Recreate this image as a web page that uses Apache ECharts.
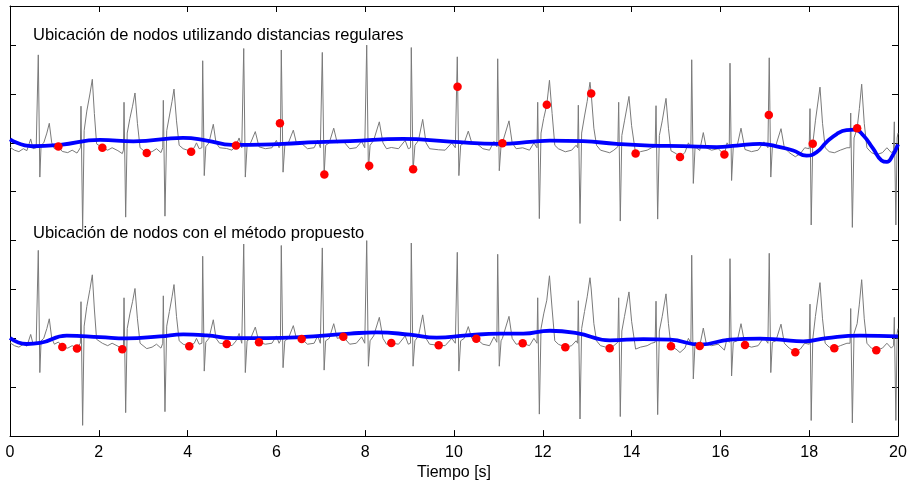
<!DOCTYPE html>
<html><head><meta charset="utf-8">
<script src="https://cdn.jsdelivr.net/npm/echarts@6/dist/echarts.min.js"></script>
<style>html,body{margin:0;padding:0;background:#fff}#c{width:914px;height:486px}</style>
</head><body><div id="c"></div>
<script>
const titles = ['Ubicación de nodos utilizando distancias regulares', 'Ubicación de nodos con el método propuesto'];
const xAxisName = 'Tiempo [s]';

// ECG trace [time s, amplitude]
const ecg = [
[0,-0.09],[0.1,-0.15],[0.2,-0.18],[0.3,-0.12],[0.38,-0.16],[0.466,0.08],[0.52,-0.12],[0.59,-0.1],
[0.62,-0.08],[0.637,1.80],[0.672,-0.70],[0.70,-0.05],[0.76,0.0],[0.83,0.2],[0.885,0.40],[0.94,0.0],[1.0,-0.12],[1.09,-0.075],[1.178,-0.176],[1.3,-0.2],[1.4,-0.15],[1.509,-0.209],[1.585,-0.1],
[1.599,0.75],[1.636,-1.78],[1.67,0.25],[1.73,0.65],[1.80,1.0],[1.854,1.30],[1.90,0.6],[1.95,-0.02],[2.08,-0.10],[2.2,-0.15],[2.3,-0.1],[2.43,-0.16],[2.529,-0.22],[2.555,-0.15],
[2.568,0.83],[2.605,-1.52],[2.64,0.2],[2.70,0.5],[2.76,0.75],[2.815,1.02],[2.87,0.4],[2.93,-0.1],[3.08,-0.21],[3.2,-0.18],[3.3,-0.12],[3.4,-0.2],[3.44,-0.1],
[3.453,0.87],[3.49,-1.50],[3.53,0.25],[3.59,0.55],[3.65,0.85],[3.694,1.10],[3.75,0.45],[3.81,-0.05],[3.9,-0.12],[4.038,-0.162],[4.08,-0.18],[4.15,-0.1],[4.2,0.0],[4.26,-0.12],[4.322,-0.1],
[4.34,1.68],[4.375,-0.67],[4.41,-0.08],[4.48,0.0],[4.579,0.38],[4.64,0.0],[4.72,-0.1],[4.881,-0.116],[5.0,-0.15],[5.09,-0.055],[5.16,0.1],[5.22,-0.1],[5.245,-0.1],
[5.264,1.93],[5.30,-0.70],[5.34,-0.05],[5.42,0.0],[5.525,0.23],[5.608,-0.081],[5.75,-0.12],[5.9,-0.1],[6.0,0.05],[6.06,-0.1],[6.09,-0.05],
[6.11,1.90],[6.15,-0.60],[6.19,-0.05],[6.27,0.0],[6.381,0.26],[6.45,0.0],[6.570,-0.014],[6.7,-0.12],[6.85,-0.1],[6.93,0.05],[6.99,-0.1],[7.015,-0.08],
[7.034,1.85],[7.075,-0.65],[7.11,-0.05],[7.19,0.0],[7.291,0.30],[7.37,0.0],[7.507,0.034],[7.65,-0.12],[7.8,-0.1],[7.92,0.03],[7.99,-0.1],[8.015,-0.08],
[8.034,2.00],[8.072,-0.57],[8.11,-0.05],[8.19,0.05],[8.318,0.43],[8.40,0.0],[8.48,-0.12],[8.588,-0.095],[8.75,-0.12],[8.9,0.05],[8.97,-0.12],[9.02,-0.1],
[9.038,1.95],[9.078,-0.57],[9.12,-0.05],[9.2,0.05],[9.295,0.48],[9.37,0.0],[9.45,-0.12],[9.655,-0.142],[9.8,-0.15],[9.95,0.0],[10.03,-0.1],[10.055,-0.08],
[10.074,1.76],[10.11,-0.67],[10.15,-0.05],[10.23,0.0],[10.322,0.24],[10.40,0.0],[10.502,-0.006],[10.65,-0.12],[10.8,-0.15],[10.9,0.03],[10.965,-0.08],
[10.984,1.72],[11.02,-0.57],[11.06,-0.05],[11.09,0.0],[11.239,0.45],[11.31,0.0],[11.40,-0.12],[11.547,-0.101],[11.7,-0.15],[11.80,0.0],[11.87,-0.1],
[11.885,0.83],[11.922,-1.55],[11.96,0.2],[12.02,0.5],[12.09,0.78],[12.15,1.28],[12.21,0.6],[12.27,-0.05],[12.35,-0.12],[12.507,-0.183],[12.65,-0.15],[12.75,-0.05],[12.785,-0.1],
[12.80,0.77],[12.838,-1.65],[12.875,0.2],[12.94,0.55],[13.0,0.85],[13.063,1.24],[13.09,1.01],[13.15,0.3],[13.21,-0.05],[13.3,-0.15],[13.507,-0.203],[13.6,-0.15],[13.69,-0.08],
[13.709,0.83],[13.745,-1.60],[13.78,0.15],[13.84,0.45],[13.941,0.95],[14.0,0.35],[14.09,-0.22],[14.2,-0.18],[14.35,-0.15],[14.45,-0.1],[14.53,-0.08],
[14.55,0.76],[14.587,-1.56],[14.625,0.15],[14.69,0.45],[14.775,0.91],[14.83,0.3],[14.887,-0.162],[15.0,-0.22],[15.09,-0.29],[15.2,-0.2],[15.28,0.0],[15.335,-0.1],
[15.354,1.70],[15.39,-0.83],[15.43,-0.08],[15.534,-0.156],[15.615,0.21],[15.68,-0.1],[15.8,-0.15],[15.95,-0.12],[16.09,-0.24],[16.15,0.0],[16.2,-0.08],
[16.216,1.63],[16.252,-0.77],[16.29,-0.08],[16.38,-0.05],[16.464,0.30],[16.554,-0.136],[16.7,-0.18],[16.85,-0.15],[16.98,0.02],[17.07,-0.1],[17.085,-0.1],
[17.10,1.74],[17.135,-0.70],[17.17,-0.08],[17.25,-0.05],[17.365,0.29],[17.44,-0.1],[17.55,-0.2],[17.687,-0.284],[17.8,-0.22],[17.9,-0.1],[18.0,-0.12],
[18.018,0.70],[18.045,-1.68],[18.08,-0.02],[18.14,0.45],[18.243,1.14],[18.30,0.4],[18.36,-0.1],[18.45,-0.18],[18.565,-0.203],[18.7,-0.15],[18.85,-0.1],[18.92,-0.1],
[18.935,0.61],[18.972,-1.73],[19.01,0.1],[19.08,0.30],[19.13,0.7],[19.182,1.20],[19.24,0.4],[19.30,-0.1],[19.40,-0.2],[19.511,-0.243],[19.65,-0.2],[19.75,-0.1],[19.85,-0.2],[19.9,-0.15],
[19.917,0.43],[19.952,-1.68],[19.98,0.1],[20.0,0.2]
];

// Nodes at regular distances (top panel)
const topNodes = [[1.09,-0.075],[2.08,-0.10],[3.08,-0.21],[4.08,-0.18],[5.09,-0.055],[6.08,0.40],[7.08,-0.65],[8.09,-0.47],[9.08,-0.54],[10.08,1.15],[11.09,-0.006],[12.09,0.78],[13.09,1.01],[14.09,-0.22],[15.09,-0.29],[16.09,-0.24],[17.09,0.57],[18.08,-0.02],[19.08,0.30]];

// Nodes from proposed method (bottom panel)
const bottomNodes = [[1.178,-0.176],[1.509,-0.209],[2.529,-0.223],[4.038,-0.162],[4.881,-0.116],[5.608,-0.081],[6.570,-0.014],[7.507,0.034],[8.588,-0.095],[9.655,-0.142],[10.502,-0.006],[11.547,-0.101],[12.507,-0.183],[13.507,-0.203],[14.887,-0.162],[15.534,-0.156],[16.554,-0.136],[17.687,-0.284],[18.565,-0.203],[19.511,-0.243]];

// Estimated baseline curves
const topBaseline = [[0,0.07],[0.5,-0.07],[1.13,-0.04],[2.03,0.06],[2.78,0.03],[3.9,0.1],[4.43,0.047],[5.0,-0.04],[5.41,-0.04],[6.15,-0.02],[6.91,0.014],[7.66,0.034],[8.85,0.08],[9.91,0.026],[11.04,-0.02],[11.78,0.026],[12.16,0.047],[12.9,0.034],[13.66,-0.02],[14.41,-0.055],[15.16,-0.067],[15.92,-0.087],[16.37,-0.055],[16.89,-0.02],[17.34,-0.087],[17.64,-0.156],[17.94,-0.26],[18.17,-0.19],[18.39,0.014],[18.62,0.18],[18.84,0.26],[19.03,0.27],[19.22,0.15],[19.44,-0.12],[19.63,-0.36],[19.75,-0.39],[19.86,-0.29],[20.0,-0.03]];
const bottomBaseline = [[0,0.006],[0.376,-0.116],[0.676,-0.095],[1.277,0.055],[2.027,0.026],[2.628,0],[3.378,0.041],[3.903,0.081],[4.43,0.061],[5.029,0.006],[5.782,0.006],[6.532,0.026],[7.658,0.097],[8.259,0.122],[9.009,0.075],[9.61,0.014],[10.286,0.061],[11.036,0.095],[11.561,0.095],[12.162,0.156],[12.763,0.108],[13.514,-0.041],[14.264,-0.014],[14.865,-0.026],[15.541,-0.128],[16.216,-0.026],[16.892,-0.004],[17.342,-0.026],[17.867,-0.061],[18.394,0.006],[19.144,0.055],[20.0,0.041]];

const FONT = '"Liberation Sans", Arial, Helvetica, sans-serif';
const chart = echarts.init(document.getElementById('c'), null, {renderer: 'canvas'});
const axisLineStyle = {color: '#000', width: 1};
chart.setOption({
  animation: false,
  backgroundColor: '#fff',
  title: [
    {text: titles[0], left: 33, top: 27, padding: 0, textStyle: {fontFamily: FONT, fontSize: 16.5, fontWeight: 'normal', color: '#000'}},
    {text: titles[1], left: 33, top: 225, padding: 0, textStyle: {fontFamily: FONT, fontSize: 16.5, fontWeight: 'normal', color: '#000'}}
  ],
  grid: {left: 10, right: 16, top: 6, bottom: 46, containLabel: false},
  xAxis: [
    {type: 'value', min: 0, max: 20, interval: 2, position: 'bottom',
     axisLine: {onZero: false, lineStyle: axisLineStyle},
     axisTick: {inside: true, length: 6, lineStyle: axisLineStyle},
     axisLabel: {fontFamily: FONT, fontSize: 16, color: '#000', margin: 8},
     splitLine: {show: false},
     name: xAxisName, nameLocation: 'middle', nameGap: 25,
     nameTextStyle: {fontFamily: FONT, fontSize: 16, color: '#000'}},
    {type: 'value', min: 0, max: 20, interval: 2, position: 'top',
     axisLine: {onZero: false, lineStyle: axisLineStyle},
     axisTick: {inside: true, length: 6, lineStyle: axisLineStyle},
     axisLabel: {show: false}, splitLine: {show: false}}
  ],
  yAxis: [
    {type: 'value', min: -2, max: 6.8, interval: 1, position: 'left',
     axisLine: {show: true, onZero: false, lineStyle: axisLineStyle},
     axisTick: {show: true, inside: true, length: 6, lineStyle: axisLineStyle},
     axisLabel: {show: false}, splitLine: {show: false}},
    {type: 'value', min: -2, max: 6.8, interval: 1, position: 'right',
     axisLine: {show: true, onZero: false, lineStyle: axisLineStyle},
     axisTick: {show: true, inside: true, length: 6, lineStyle: axisLineStyle},
     axisLabel: {show: false}, splitLine: {show: false}},
    {type: 'value', min: -6, max: 2.8, show: false}
  ],
  series: [
    {type: 'line', data: ecg, xAxisIndex: 0, yAxisIndex: 2, showSymbol: false, lineStyle: {color: '#7a7a7a', width: 1}, z: 1, silent: true},
    {type: 'line', data: ecg, xAxisIndex: 0, yAxisIndex: 0, showSymbol: false, lineStyle: {color: '#7a7a7a', width: 1}, z: 1, silent: true},
    {type: 'line', data: topBaseline, xAxisIndex: 0, yAxisIndex: 2, showSymbol: false, smooth: 0.5, lineStyle: {color: '#0000ff', width: 3.8}, z: 2},
    {type: 'line', data: bottomBaseline, xAxisIndex: 0, yAxisIndex: 0, showSymbol: false, smooth: 0.5, lineStyle: {color: '#0000ff', width: 3.8}, z: 2},
    {type: 'scatter', data: topNodes, xAxisIndex: 0, yAxisIndex: 2, symbolSize: 8.5, itemStyle: {color: '#ff0000', opacity: 1}, z: 3},
    {type: 'scatter', data: bottomNodes, xAxisIndex: 0, yAxisIndex: 0, symbolSize: 8.5, itemStyle: {color: '#ff0000', opacity: 1}, z: 3}
  ]
});
</script>
</body></html>
